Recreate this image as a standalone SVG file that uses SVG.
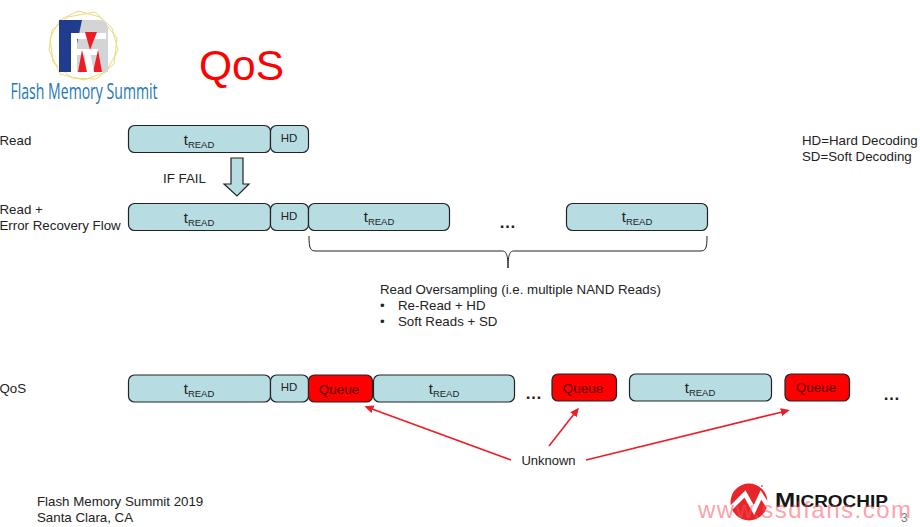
<svg xmlns="http://www.w3.org/2000/svg" width="920" height="527" viewBox="0 0 920 527">
<style>
text{font-family:"Liberation Sans",Arial,sans-serif;fill:#222}
.t{font-size:13.3px}
.b{fill:#b7dde2;stroke:#222;stroke-width:1.2}
.q{fill:#f00;stroke:#222;stroke-width:1.2}
.l{font-size:15px;text-anchor:middle}
.h{font-size:11.5px;text-anchor:middle}
.qt{font-size:13.5px;text-anchor:middle;fill:#5c0000}
.s{font-size:9.5px}
.red{stroke:#ee1c25;stroke-width:1.6;fill:none;marker-end:url(#a)}
.dots{font-size:17px;font-weight:bold;letter-spacing:1px;text-anchor:middle}
</style>
<defs>
<marker id="a" markerWidth="9" markerHeight="8" refX="1" refY="4" orient="auto" markerUnits="userSpaceOnUse"><path d="M0 0 L9 4 L0 8Z" fill="#ee1c25"/></marker>
</defs>
<rect width="920" height="527" fill="#fff"/>
<g id="fms-logo">
<g fill="none" stroke="#e8dc78" stroke-width="1">
<polygon points="68,17 95,12 112,28 118,50 106,72 84,80 60,74 49,50 52,30"/>
<polygon points="78,11 100,17 117,38 114,64 96,79 72,78 53,62 50,38 60,20"/>
</g>
<path d="M59 20H100Q108 20 108 30V72H59Z" fill="#d3d4d6"/>
<path d="M59 20H82L71 72H59Z" fill="#1f3c8f"/>
<path d="M71 33H106V39H77V49H98V55H77V72H71Z" fill="#fff"/>
<path d="M85 32H97L90 50Z" fill="#ee1c25"/>
<path d="M78 72L82 50L87 72ZM93 72L98 50L102 72Z" fill="#ee1c25"/>
<path d="M87 72L84 52H90L94 72Z" fill="#fff"/>
<text x="84" y="99" font-size="22" textLength="147" lengthAdjust="spacingAndGlyphs" text-anchor="middle" style="font-family:'Open Sans',sans-serif;fill:#1d77b5">Flash Memory Summit</text>
</g>
<text id="title" x="199" y="80" font-size="42.500" style="fill:#f00">QoS</text>
<g id="labels" class="t">
<text x="-0.500" y="145">Read</text>
<text x="-0.500" y="214">Read +</text>
<text x="-0.500" y="230">Error Recovery Flow</text>
<text x="-0.500" y="393">QoS</text>
<text x="802" y="145">HD=Hard Decoding</text>
<text x="802" y="161">SD=Soft Decoding</text>
<text x="163" y="183">IF FAIL</text>
<text x="380" y="294">Read Oversampling (i.e. multiple NAND Reads)</text>
<text x="380" y="310">•</text><text x="398" y="310">Re-Read + HD</text>
<text x="380" y="326">•</text><text x="398" y="326">Soft Reads + SD</text>
<text x="37" y="506">Flash Memory Summit 2019</text>
<text x="37" y="522">Santa Clara, CA</text>
</g>
<g id="row-read">
<g id="r1-tread"><rect class="b" x="128.500" y="125.500" width="142" height="27" rx="6"/><text class="l" x="199" y="145">t<tspan class="s" dy="3">READ</tspan></text></g>
<g id="r1-hd"><rect class="b" x="270.500" y="125.500" width="38" height="27" rx="6"/><text class="h" x="289" y="142">HD</text></g>
</g>
<g id="fail-arrow"><path class="b" d="M231 158H243V184H249L237 196L224 184H231Z"/></g>
<g id="row-recovery">
<g id="r2-tread1"><rect class="b" x="128.500" y="203.500" width="142" height="27" rx="6"/><text class="l" x="199" y="223">t<tspan class="s" dy="3">READ</tspan></text></g>
<g id="r2-hd"><rect class="b" x="270.500" y="203.500" width="38" height="27" rx="6"/><text class="h" x="289" y="220">HD</text></g>
<g id="r2-tread2"><rect class="b" x="308.500" y="203.500" width="141" height="27" rx="6"/><text class="l" x="379" y="222">t<tspan class="s" dy="3">READ</tspan></text></g>
<g id="r2-tread3"><rect class="b" x="566.500" y="203.500" width="141" height="27" rx="6"/><text class="l" x="637" y="222">t<tspan class="s" dy="3">READ</tspan></text></g>
<text class="dots" x="508" y="228">…</text>
</g>
<g id="brace"><path d="M309 236C309 248 310 251 316 251H502C506 251 508 254 508 268C508 254 510 251 514 251H700C706 251 707 248 707 236" fill="none" stroke="#222" stroke-width="1"/></g>
<g id="row-qos">
<g id="q-tread1"><rect class="b" x="128.500" y="375" width="142" height="27" rx="6"/><text class="l" x="199" y="394">t<tspan class="s" dy="3">READ</tspan></text></g>
<g id="q-hd"><rect class="b" x="270.500" y="375" width="38" height="27" rx="6"/><text class="h" x="289" y="391">HD</text></g>
<g id="q-queue1"><rect class="q" x="308.500" y="375" width="64" height="27" rx="6"/><text class="qt" x="339" y="394">Queue</text></g>
<g id="q-tread2"><rect class="b" x="373.500" y="375" width="141" height="27" rx="6"/><text class="l" x="444" y="394">t<tspan class="s" dy="3">READ</tspan></text></g>
<g id="q-queue2"><rect class="q" x="552" y="374" width="64.500" height="27" rx="6"/><text class="qt" x="583" y="393">Queue</text></g>
<g id="q-tread3"><rect class="b" x="629.500" y="374" width="142" height="27" rx="6"/><text class="l" x="700" y="393">t<tspan class="s" dy="3">READ</tspan></text></g>
<g id="q-queue3"><rect class="q" x="785" y="374" width="64.500" height="27" rx="6"/><text class="qt" x="816" y="392">Queue</text></g>
<text class="dots" x="534" y="399">…</text>
<text class="dots" x="892" y="400">…</text>
</g>
<g id="connectors">
<line class="red" x1="511" y1="460" x2="372" y2="409"/>
<line class="red" x1="549" y1="446" x2="574" y2="414"/>
<line class="red" x1="586" y1="460" x2="782" y2="412"/>
</g>
<text id="unknown" x="548.500" y="465" font-size="13" text-anchor="middle">Unknown</text>
<g id="microchip-logo">
<circle cx="749" cy="502" r="18.500" fill="#e8262a"/>
<path d="M731 508L745 494L754 510L761 495L768 506" fill="none" stroke="#fff" stroke-width="4.500"/>
<circle cx="762" cy="486" r="1" fill="#888"/>
<text x="775" y="507" font-size="21" font-weight="bold" textLength="113" lengthAdjust="spacingAndGlyphs" style="fill:#151515">M<tspan font-size="16.500">ICROCHIP</tspan></text>
</g>
<text id="page" x="901" y="522" font-size="12" style="fill:#777">3</text>
<text id="watermark" x="698" y="518" font-size="24" textLength="213" lengthAdjust="spacing" style="fill:#ff5060;fill-opacity:.55">www.ssdfans.com</text>
</svg>
